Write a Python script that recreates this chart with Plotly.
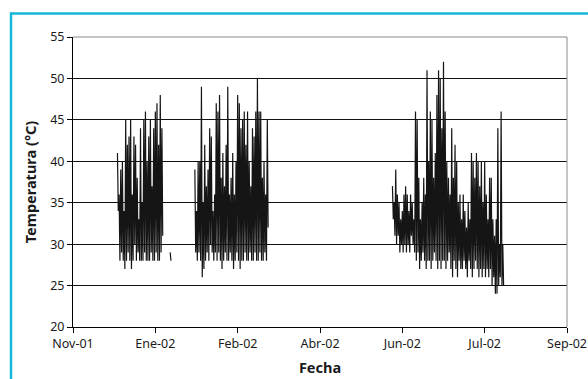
import pandas as pd
import plotly.graph_objects as go

# ---- data (daily max / min temperature) ----
seg1_start = "2001-12-12"
seg1_max = [41, 36, 39, 40, 34, 45, 42, 43, 45, 36, 43, 42, 38, 33, 44, 35, 45, 46, 40, 43,
            45, 37, 44, 46, 47, 42, 48, 44]
seg1_min = [34, 28, 29, 28, 27, 28, 29, 28, 27, 28, 30, 28, 29, 28, 28, 28, 29, 28, 28, 28,
            29, 28, 28, 29, 28, 28, 29, 31]

seg_short_dates = ["2002-01-13 00:00", "2002-01-13 12:00"]
seg_short_vals = [29, 28]

seg2_start = "2002-01-28"
seg2_max = [39, 34, 40, 40, 49, 35, 42, 37, 39, 44, 43, 34, 36, 47, 46, 48, 38, 41, 37, 42,
            49, 36, 38, 41, 36, 40, 48, 47, 44, 45, 46, 42, 46, 40, 37, 44, 43, 46, 50, 46,
            46, 38, 40, 36, 45]
seg2_min = [29, 28, 29, 28, 26, 27, 28, 29, 28, 30, 29, 28, 29, 28, 29, 28, 27, 28, 29, 28,
            28, 29, 28, 27, 28, 29, 28, 27, 28, 28, 29, 28, 28, 29, 28, 28, 29, 28, 28, 29,
            28, 28, 29, 28, 32]

seg3_start = "2002-05-28"
seg3_max = [37, 35, 39, 36, 35, 33, 34, 36, 37, 36, 34, 36, 35, 33, 46, 45, 38, 33, 35, 38,
            36, 51, 40, 46, 45, 38, 41, 48, 51, 50, 44, 52, 46, 40, 38, 36, 44, 38, 42, 40,
            35, 36, 33, 36, 34, 32, 35, 33, 41, 40, 38, 41, 40, 37, 40, 35, 40, 36, 33, 38,
            38, 33, 31, 33, 44, 30, 46, 30]
seg3_min = [33, 31, 30, 31, 29, 30, 29, 30, 29, 30, 29, 31, 30, 29,
            28, 29, 27, 28, 29, 28, 27, 28, 28, 27, 28, 29, 28, 27, 28, 27, 28, 28, 27, 28, 29, 27,
            26, 28, 27, 26, 28, 27, 27, 28, 27, 26, 28, 27, 26, 27, 28,
            27, 26, 27, 26, 27, 26, 27, 26, 27, 25, 26, 24, 24, 25, 26, 25, 25]

tick_dates = ["2001-11-15", "2002-01-04", "2002-02-23", "2002-04-14",
              "2002-06-03", "2002-07-23", "2002-09-11"]
tick_labels = ["Nov-01", "Ene-02", "Feb-02", "Abr-02", "Jun-02", "Jul-02", "Sep-02"]
y_ticks = [20, 25, 30, 35, 40, 45, 50, 55]


def build(start, maxs, mins):
    xs, ys = [], []
    t0 = pd.Timestamp(start)
    for k, (hi, lo) in enumerate(zip(maxs, mins)):
        xs += [t0 + pd.Timedelta(days=k), t0 + pd.Timedelta(days=k, hours=12)]
        ys += [hi, lo]
    return xs, ys


X, Y = [], []
for part in [build(seg1_start, seg1_max, seg1_min),
             ([pd.Timestamp(d) for d in seg_short_dates], seg_short_vals),
             build(seg2_start, seg2_max, seg2_min),
             build(seg3_start, seg3_max, seg3_min)]:
    X += list(part[0]) + [None]
    Y += list(part[1]) + [None]

fig = go.Figure()
fig.add_trace(go.Scatter(x=X, y=Y, mode="lines", line=dict(color="#151515", width=1.2),
                         connectgaps=False, hoverinfo="skip"))

font_family = "Noto Sans, DejaVu Sans, sans-serif"
fig.update_layout(
    width=588, height=379,
    margin=dict(l=73, r=21, t=37, b=52),
    paper_bgcolor="white", plot_bgcolor="white",
    showlegend=False,
    font=dict(family=font_family, size=12.5, color="#1a1a1a"),
)
fig.update_xaxes(
    type="date", range=[tick_dates[0], tick_dates[-1]], automargin=False,
    tickmode="array", tickvals=tick_dates, ticktext=tick_labels,
    ticks="outside", ticklen=5, tickcolor="#000", showline=True, linecolor="#000",
    showgrid=False, zeroline=False,
    title=dict(text="<b>Fecha</b>", font=dict(size=14.5), standoff=11),
)
fig.update_yaxes(
    range=[20, 55], tickmode="array", tickvals=y_ticks, automargin=False,
    ticks="outside", ticklen=5, tickcolor="#000", showline=True, linecolor="#000",
    showgrid=True, gridcolor="#111111", gridwidth=1, zeroline=False,
    title=dict(text="<b>Temperatura (°C)</b>", font=dict(size=14.5), standoff=10),
)
# grey plot-area border (top and right)
fig.add_shape(type="line", xref="paper", yref="paper", x0=0, x1=1, y0=1, y1=1,
              line=dict(color="#8a8a8a", width=1))
fig.add_shape(type="line", xref="paper", yref="paper", x0=1, x1=1, y0=0, y1=1,
              line=dict(color="#8a8a8a", width=1))
# cyan frame around chart (left and top visible)
fig.add_shape(type="rect", xref="paper", yref="paper",
              x0=-0.1255, x1=1.2, y0=-0.5, y1=1.081,
              line=dict(color="#19B6DA", width=2.5))

fig.write_html("out.html", config={"displayModeBar": False},
               post_script="document.body.style.margin='0';document.body.style.padding='0';")
